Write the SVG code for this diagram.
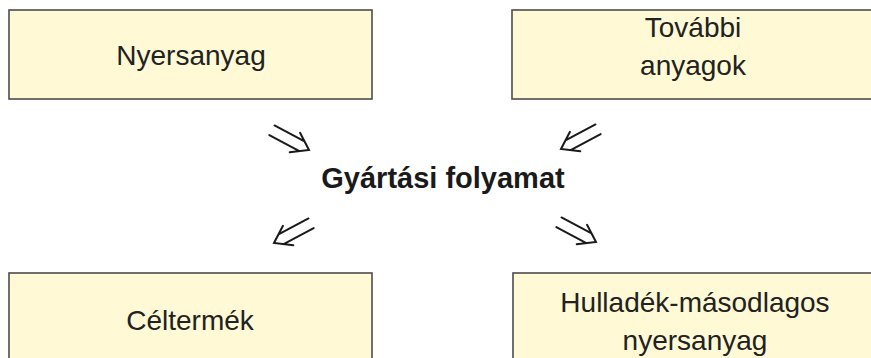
<svg xmlns="http://www.w3.org/2000/svg" width="871" height="358" viewBox="0 0 871 358">
  <style>
    .box { fill: #fff9d5; stroke: #4d4d4d; stroke-width: 1.6; }
    .lbl { font-family: "Liberation Sans", Arial, sans-serif; font-size: 28px; fill: #222; text-anchor: middle; }
    .title { font-family: "Liberation Sans", Arial, sans-serif; font-size: 29px; font-weight: bold; fill: #1a1a1a; text-anchor: middle; }
    .arr { fill: none; stroke: #1a1a1a; stroke-width: 2; stroke-linecap: round; stroke-linejoin: miter; }
  </style>
  <defs>
    <g id="dblarrow">
      <path class="arr" d="M-42,-5.5 L-8,-5.5 M-42,5.5 L-8,5.5 M-16,-11 L0,0 L-16,11"/>
    </g>
  </defs>
  <rect width="871" height="358" fill="#ffffff"/>

  <g id="node-nyersanyag">
    <rect class="box" x="9" y="10" width="363" height="89"/>
    <text class="lbl" x="191" y="65">Nyersanyag</text>
  </g>

  <g id="node-tovabbi">
    <rect class="box" x="512" y="10" width="363" height="89"/>
    <text class="lbl" x="693" y="37">További</text>
    <text class="lbl" x="693" y="75">anyagok</text>
  </g>

  <g id="node-process">
    <text class="title" x="443" y="188">Gyártási folyamat</text>
  </g>

  <g id="node-celtermek">
    <rect class="box" x="9" y="273" width="363" height="95"/>
    <text class="lbl" x="190" y="330">Céltermék</text>
  </g>

  <g id="node-hulladek">
    <rect class="box" x="513" y="273" width="363" height="95"/>
    <text class="lbl" x="695" y="312">Hulladék-másodlagos</text>
    <text class="lbl" x="695" y="350">nyersanyag</text>
  </g>

  <g id="connectors">
    <use href="#dblarrow" transform="translate(309,150) rotate(28)"/>
    <use href="#dblarrow" transform="translate(561,149) rotate(152)"/>
    <use href="#dblarrow" transform="translate(274,243) rotate(152)"/>
    <use href="#dblarrow" transform="translate(596,242) rotate(28)"/>
  </g>
</svg>
